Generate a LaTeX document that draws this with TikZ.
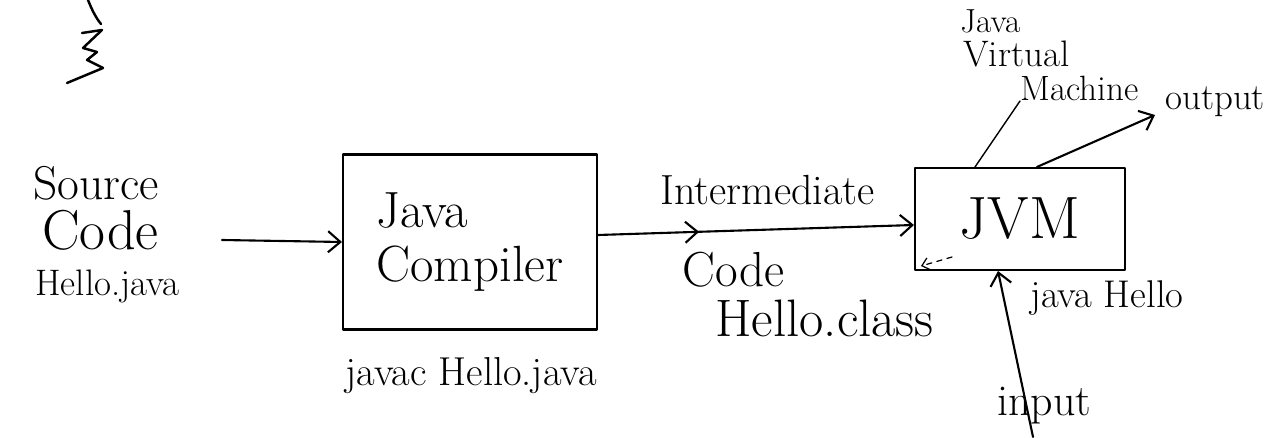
\documentclass[tikz,border=0pt]{standalone}
\usetikzlibrary{arrows.meta,decorations.markings}
\newcommand{\fsz}[1]{\fontsize{#1}{#1}\selectfont}
\begin{document}
\begin{tikzpicture}[x=0.02cm,y=-0.02cm,
  pen/.style={line width=1.2pt, line cap=round, line join=round},
  lbl/.style={anchor=base west, inner sep=0pt},
  box/.style={draw, pen, align=left, inner sep=0pt},
  tip/.style={-{Straight Barb[length=7pt,width=12pt,line width=1.2pt]}},
  midtip/.style={postaction={decorate}, decoration={markings,
     mark=at position #1 with {\arrow{Straight Barb[length=7pt,width=12pt,line width=1.2pt]}}}}
]
\useasboundingbox (0,0) rectangle (1287,438);

% squiggle at top left
\draw[pen, line width=1.4pt] (88,0) .. controls (92,10) and (96,18) .. (101,24);
\draw[pen, line width=1.4pt] (82,33) -- (102,30) -- (83,48) -- (97,52) -- (87,60) -- (103,68) -- (67,83);

% source code
\node[lbl, font=\fsz{27}] (src1) at (33,200) {Source};
\node[lbl, font=\fsz{32}] (src2) at (42,250) {Code};
\node[lbl, font=\fsz{21}] (srcfile) at (35,296) {Hello.java};

% compiler
\node[box, minimum width=5.08cm, minimum height=3.5cm, font=\fontsize{29}{31}\selectfont] (comp) at (470,242) {Java\\Compiler};
\node[lbl, font=\fsz{23}] (javac) at (345,386) {javac Hello.java};

% JVM
\node[box, minimum width=4.2cm, minimum height=2.04cm, font=\fsz{34}] (jvm) at (1020,219) {JVM};

% labels
\node[lbl, font=\fsz{24}] (inter) at (660,205) {Intermediate};
\node[lbl, font=\fsz{28}] (icode) at (682,287) {Code};
\node[lbl, font=\fsz{30}] (hclass) at (715,337) {Hello.class};
\node[lbl, font=\fsz{22}] (jhello) at (1030,308) {java Hello};
\node[lbl, font=\fsz{25}] (input) at (997,416) {input};
\node[lbl, font=\fsz{19}] (vm1) at (960,33) {Java};
\node[lbl, font=\fsz{21}] (vm2) at (963,67) {Virtual};
\node[lbl, font=\fsz{20}] (vm3) at (1020,101) {Machine};
\node[lbl, font=\fsz{21}] (output) at (1165,110) {output};

% connectors
\coordinate (srcstart) at (222,240);
\draw[pen, tip] (srcstart) -- (comp.west);
\draw[pen, tip, midtip=0.32] ([yshift=0.14cm]comp.east) -- ([yshift=-0.12cm]jvm.west);
\draw[pen, line width=0.8pt] ([xshift=-0.9cm]jvm.north) -- (vm3.base west);
\draw[pen, tip] ([xshift=0.34cm]jvm.north) -- ([xshift=-0.2cm,yshift=-0.1cm]output.base west);
\coordinate (instart) at (1033,437);
\draw[pen, tip] (instart) -- ([xshift=-0.44cm]jvm.south);
\coordinate (back1) at (952,257);
\draw[pen, line width=0.7pt, dashed, -{Straight Barb[length=4pt,width=7pt]}] (back1) -- ([xshift=0.14cm,yshift=0.1cm]jvm.south west);
\end{tikzpicture}
\end{document}
